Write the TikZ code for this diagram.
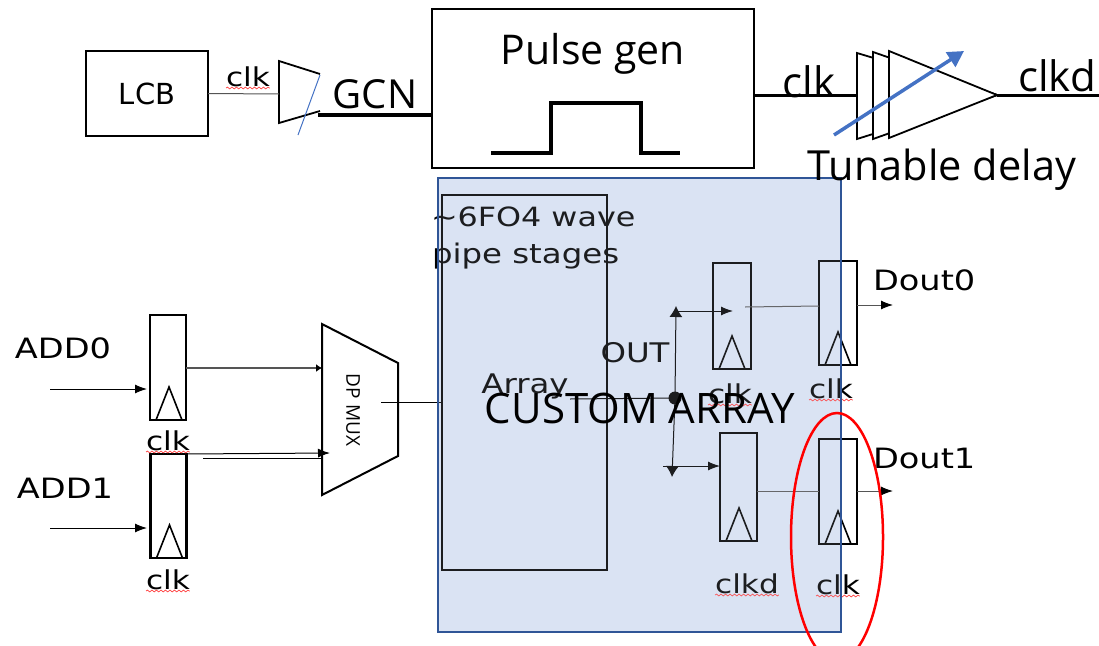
\documentclass[tikz,border=0pt]{standalone}
\usepackage{fontspec}
\usetikzlibrary{arrows.meta,decorations.pathmorphing,shapes.geometric}
\newfontfamily\smf[FakeStretch=1.2]{DejaVu Sans}
\newfontfamily\plf{DejaVu Sans}
\newfontfamily\bgf{Open Sans}
\definecolor{blockfill}{HTML}{DAE3F3}
\definecolor{blockedge}{HTML}{2F5597}
\definecolor{accent}{HTML}{4472C4}
\definecolor{thin}{HTML}{555555}
\tikzset{
  box/.style={draw,line width=2pt,inner sep=0pt,outer sep=0pt},
  ffbox/.style={box,line width=2.1pt},
  sm/.style={inner sep=0pt,outer sep=0pt,anchor=base,font=\smf\fontsize{#1}{#1}\selectfont},
  sm/.default=28,
  bg/.style={inner sep=0pt,outer sep=0pt,anchor=base,font=\bgf\fontsize{#1}{#1}\selectfont},
  wire/.style={line width=1pt},
  gwire/.style={line width=1pt,draw=thin},
  heavy/.style={line width=3.5pt},
  arr/.style={-{Latex[black,length=12pt,width=9pt]}},
  squig/.style={draw=red!75!white,line width=.7pt,decorate,decoration={snake,amplitude=.9pt,segment length=4.5pt}},
}
\newcommand\cktri[1]{\draw[line width=1.6pt] ([xshift=6pt]#1.south west) -- ([xshift=19pt,yshift=33pt]#1.south west) -- ([xshift=32pt]#1.south west);}
\newcommand\cklab[4]{\node[sm=26] (#1) at (#2,#3) {#4};\draw[squig] ([yshift=-2pt]#1.base west) -- ([yshift=-2pt]#1.base east);}
\begin{document}
\begin{tikzpicture}[x=1pt,y=-1pt]
\useasboundingbox (0,0) rectangle (1099,645);
\clip (0,0) rectangle (1099,645);
% custom array background
\fill[blockfill] (438,178) rectangle (841,632);
% top row
\node[box,minimum width=122pt,minimum height=85pt,font=\plf\fontsize{29}{29}\selectfont] (lcb) at (147,93.5) {LCB};
\cklab{clkA}{248}{86}{clk}
\coordinate (gateL) at (279,94);
\draw[line width=1.8pt] (320,74) -- (279,61) -- (279,123) -- (320,111);
\draw[accent,line width=1pt] (320,75) -- (298,135);
\draw[gwire] (lcb.east) -- (gateL);
\node[bg=40] (gcn) at (375,108) {GCN};
\node[box,line width=2.4pt,minimum width=322pt,minimum height=159pt] (pulse) at (593,88.5) {};
\node[bg=41] (pulsetxt) at (593,64) {Pulse gen};
\coordinate (gateR) at (318,115);
\draw[heavy] (gateR) -- (gateR -| pulse.west);
\draw[heavy] (491,153) -- (551,153) -- (551,103) -- (641,103) -- (641,153) -- (680,153);
\coordinate (bufL) at (857,95);
\coordinate (bufT) at (997,95);
\coordinate (outR) at (1099,95);
\draw[heavy,line width=3pt] (pulse.east |- bufL) -- (bufL);
\draw[heavy,line width=3pt] (bufT) -- (outR);
\node[bg=42] (clkB) at (809,97) {clk};
\node[bg=42] (clkd) at (1057,91) {clkd};
\draw[line width=1.8pt,fill=white,line join=miter] (857,53) -- (bufT) -- (857,139) -- cycle;
\draw[line width=1.8pt,fill=white,line join=miter] (873,52) -- (bufT) -- (873,139) -- cycle;
\draw[line width=1.8pt,fill=white,line join=miter] (889,51) -- (bufT) -- (889,138) -- cycle;
\coordinate (tuneA) at (834,135);
\coordinate (tuneB) at (964,51);
\draw[accent,line width=3.5pt,-{Triangle[length=16pt,width=17pt]}] (tuneA) -- (tuneB);
% left flops and mux
\node[ffbox,minimum width=36pt,minimum height=105pt] (ff0) at (168,367.5) {};
\node[ffbox,minimum width=36pt,minimum height=104pt] (ff1) at (168.5,506) {};
\cktri{ff0}\cktri{ff1}
\cklab{clkC}{168}{450}{clk}
\cklab{clkD}{168}{589}{clk}
\node[sm] (add0) at (63,358) {ADD0};
\node[sm] (add1) at (65,498) {ADD1};
\coordinate (in0) at (50,389);
\coordinate (in1) at (50,528);
\draw[wire,arr] (in0) -- (147,389);
\draw[wire,arr] (in1) -- (147,528);
\draw[line width=2pt,line join=miter] (322,324) -- (398,363) -- (398,456) -- (322,495) -- cycle;
\node[rotate=-90,inner sep=0pt,font=\bgf\fontsize{19}{19}\selectfont] (muxlab) at (353,410) {DP MUX};
\coordinate (muxA) at (322,368);
\coordinate (muxB) at (330,453);
\coordinate (muxC) at (322,458);
\coordinate (muxOut) at (381,402);
\draw[gwire,-{Latex[black,length=6pt,width=8pt]},line width=1.2pt] (ff0.east |- muxA) -- (muxA);
\draw[wire,arr] (ff1.north east) -- (muxB);
\draw[wire] (203,458) -- (muxC);
% array inner
\node[box,line width=1.5pt,minimum width=165pt,minimum height=375pt] (array) at (524.5,382.5) {};
\draw[wire] (muxOut) -- (muxOut -| array.west);
\node[sm=26.5,anchor=base west] (wave1) at (431,226) {\textasciitilde6FO4 wave};
\node[sm=27,anchor=base west] (wave2) at (432,263) {pipe stages};
\node[sm=27] (arr) at (525,393) {Array};
\node[sm=27] (outl) at (635,362) {OUT};
% right flops
\node[ffbox,minimum width=38pt,minimum height=106pt] (ffa) at (732,316) {};
\node[ffbox,minimum width=38pt,minimum height=104pt] (ffb) at (838,313) {};
\node[ffbox,minimum width=37pt,minimum height=108pt] (ffc) at (738.5,487) {};
\node[ffbox,minimum width=38pt,minimum height=105pt] (ffd) at (838,491.5) {};
\cktri{ffa}\cktri{ffb}\cktri{ffc}\cktri{ffd}
\cklab{clkE}{730}{403}{clk}
\cklab{clkF}{831}{398}{clk}
\cklab{clkG}{747}{593}{clkd}
\cklab{clkH}{838}{594}{clk}
\coordinate (hub) at (675,398);
\fill (hub) circle (6.5pt);
\coordinate (upT) at (676,306);
\coordinate (dnT) at (672,477);
\coordinate (upBr) at (676,311);
\coordinate (dnBr) at (663,466);
\draw[wire] (570,399) -- (hub);
\draw[wire,-{Latex[length=11pt,width=13pt]}] (hub) -- (upT);
\draw[wire,-{Latex[length=11pt,width=13pt]}] (hub) -- (dnT);
\draw[wire,arr] (upBr) -- (733,311);
\draw[wire,arr] (dnBr) -- (dnBr -| ffc.west);
\draw[gwire] (745,307) -- (819,306);
\draw[gwire] (ffc.east |- 0,491) -- (ffd.west |- 0,491);
\draw[gwire,arr] (857,305) -- (893,305);
\draw[gwire,arr] (857,491) -- (893,491);
\node[sm,anchor=base west] (dout0) at (873,290) {Dout0};
\node[sm,anchor=base west] (dout1) at (873,468) {Dout1};
% tint of the translucent block over what lies under it
\fill[blockfill,fill opacity=.13] (438,178) rectangle (841,632);
\draw[blockedge,line width=2.6pt] (438,178) rectangle (841,632);
\node[bg=42] (custom) at (640,423) {CUSTOM ARRAY};
\node[bg=41.5] (tunable) at (942,180) {Tunable delay};
\node[draw=red,line width=2.5pt,ellipse,inner sep=0pt,outer sep=0pt,minimum width=92pt,minimum height=248pt] (ring) at (837,537) {};
\end{tikzpicture}
\end{document}
